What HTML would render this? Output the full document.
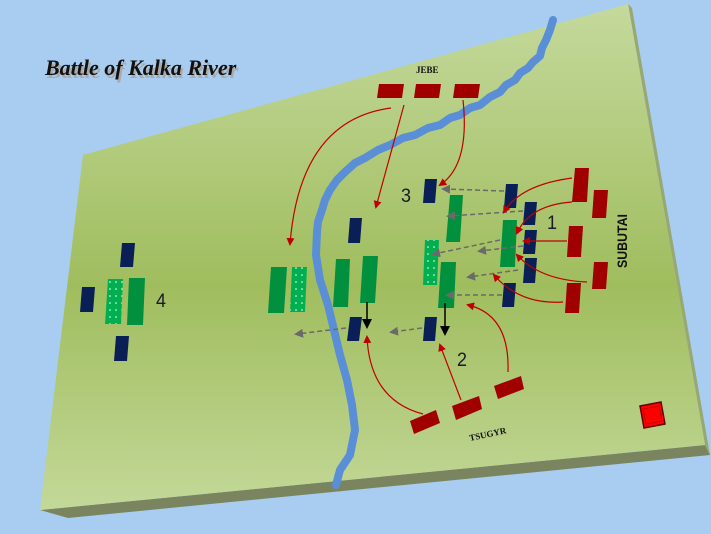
<!DOCTYPE html>
<html><head><meta charset="utf-8"><style>
html,body{margin:0;padding:0;background:#a8cdf0;width:711px;height:534px;overflow:hidden}
svg{display:block}
</style></head><body>
<svg width="711" height="534" viewBox="0 0 711 534" xmlns="http://www.w3.org/2000/svg">
<defs>
<linearGradient id="g" gradientUnits="userSpaceOnUse" x1="0" y1="5" x2="0" y2="515">
<stop offset="0" stop-color="#c4d99c"/><stop offset="0.55" stop-color="#a0bd5e"/><stop offset="1" stop-color="#c4d99a"/>
</linearGradient>
<marker id="ar" markerWidth="8" markerHeight="8" refX="6" refY="4" orient="auto" markerUnits="userSpaceOnUse"><path d="M0,0L8,4L0,8z" fill="#c00000"/></marker>
<marker id="ag" markerWidth="9" markerHeight="9" refX="6" refY="4.5" orient="auto" markerUnits="userSpaceOnUse"><path d="M0,0L9,4.5L0,9z" fill="#6a6a6a"/></marker>
<marker id="ab" markerWidth="10" markerHeight="10" refX="7" refY="5" orient="auto" markerUnits="userSpaceOnUse"><path d="M0,0L10,5L0,10z" fill="#000"/></marker>
<pattern id="dots" width="6" height="7" patternUnits="userSpaceOnUse"><rect width="6" height="7" fill="#00b050"/><circle cx="2" cy="2" r="0.8" fill="#fff"/></pattern>
</defs>
<polygon points="40,510 68,518 710,455 705,445" fill="#7a8560"/>
<polygon points="628,4 632,8 710,455 705,445" fill="#98a872"/>
<polygon points="83,155 628,4 705,445 40,510" fill="url(#g)"/>
<path d="M553,20 L550,30 L546,40 L542,48 L540,56 L533,62 L528,68 L520,73 L515,80 L506,85 L500,92 L490,97 L480,105 L470,108 L460,115 L450,118 L440,125 L428,128 L415,135 L403,138 L390,145 L378,150 L365,158 L355,163 L345,172 L337,180 L330,190 L325,200 L322,210 L318,222 L317,232 L316,255 L320,280 L328,305 L334,330 L340,355 L347,380 L352,405 L355,430 L350,455 L340,470 L336,485" fill="none" stroke="#5a8ed6" stroke-width="8" stroke-linejoin="round" stroke-linecap="round"/>
<text x="47" y="78" font-family="Liberation Serif,serif" font-style="italic" font-weight="bold" font-size="22" fill="#aaa">Battle of Kalka River</text>
<text x="45" y="75" font-family="Liberation Serif,serif" font-style="italic" font-weight="bold" font-size="22" fill="#111">Battle of Kalka River</text>
<text x="416" y="73" font-family="Liberation Serif,serif" font-weight="bold" font-size="9" fill="#111">JEBE</text>
<text transform="translate(627,268) rotate(-90)" font-family="Liberation Sans,sans-serif" font-weight="bold" font-size="14" fill="#111" textLength="54" lengthAdjust="spacingAndGlyphs">SUBUTAI</text>
<text transform="translate(470,441) rotate(-12)" font-family="Liberation Serif,serif" font-weight="bold" font-size="9" fill="#111">TSUGYR</text>
<g font-family="Liberation Sans,sans-serif" font-size="19" fill="#1a1a2a">
<text x="401" y="202" textLength="10" lengthAdjust="spacingAndGlyphs">3</text><text x="547" y="229" textLength="10" lengthAdjust="spacingAndGlyphs">1</text><text x="457" y="366" textLength="10" lengthAdjust="spacingAndGlyphs">2</text><text x="156" y="307" textLength="10" lengthAdjust="spacingAndGlyphs">4</text>
</g>
<g fill="#a00000">
<polygon points="379,84 404,84 402,98 377,98"/><polygon points="416,84 441,84 439,98 414,98"/><polygon points="455,84 480,84 478,98 453,98"/>
<polygon points="575,168 589,168 587,202 572,202"/><polygon points="594,190 608,190 606,218 592,218"/>
<polygon points="569,226 583,226 581,257 567,257"/><polygon points="594,262 608,262 606,289 592,289"/>
<polygon points="567,283 581,283 579,313 565,313"/>
<polygon points="410,421 436,410 440,423 414,434"/><polygon points="452,406 479,396 482,409 456,420"/><polygon points="494,386 521,376 524,389 498,399"/>
</g>
<g fill="#0a1f55">
<polygon points="425,179 437,179 435,203 423,203"/><polygon points="506,184 518,184 516,208 504,208"/>
<polygon points="525,202 537,202 535,225 523,225"/><polygon points="525,230 537,230 535,254 523,254"/>
<polygon points="525,258 537,258 535,283 523,283"/><polygon points="504,283 516,283 514,307 502,307"/>
<polygon points="425,317 437,317 435,341 423,341"/><polygon points="350,317 362,317 359,341 347,341"/>
<polygon points="350,218 362,218 360,243 348,243"/>
<polygon points="122,243 135,243 133,267 120,267"/><polygon points="82,287 95,287 93,312 80,312"/>
<polygon points="116,336 129,336 127,361 114,361"/>
</g>
<g fill="#00903e">
<polygon points="450,195 463,195 460,242 446,242"/><polygon points="441,262 456,262 454,308 438,308"/>
<polygon points="503,220 517,220 515,267 500,267"/>
<polygon points="271,267 287,267 284,313 268,313"/><polygon points="336,259 350,259 348,307 333,307"/>
<polygon points="363,256 378,256 375,303 360,303"/><polygon points="129,278 145,278 143,325 127,325"/>
</g>
<g fill="url(#dots)">
<polygon points="425,240 439,240 437,285 423,285"/><polygon points="292,267 307,267 305,312 290,312"/>
<polygon points="108,279 123,279 121,324 105,324"/>
</g>
<g stroke="#6a6a6a" stroke-width="1.5" stroke-dasharray="5,3" fill="none" marker-end="url(#ag)">
<path d="M504,191 L444,189"/><path d="M523,211 L449,216"/><path d="M500,240 L434,254"/>
<path d="M523,246 L480,251"/><path d="M518,270 L469,277"/><path d="M502,295 L448,295"/>
<path d="M422,328 L392,332"/><path d="M346,328 L297,334"/>
</g>
<g stroke="#000" stroke-width="1.5" marker-end="url(#ab)">
<path d="M445,303 L445,333"/><path d="M367,302 L367,326"/>
</g>
<g stroke="#c00000" stroke-width="1.2" fill="none" marker-end="url(#ar)">
<path d="M391,108 Q300,120 290,244"/><path d="M404,105 L376,207"/><path d="M463,100 Q470,165 440,185"/>
<path d="M572,178 Q520,185 504,212"/><path d="M572,202 Q530,205 517,233"/><path d="M567,241 L524,241"/>
<path d="M587,282 Q540,280 517,255"/><path d="M563,302 Q520,305 494,275"/>
<path d="M508,372 Q510,315 468,305"/><path d="M461,400 L440,345"/><path d="M423,414 Q370,400 367,337"/>
</g>
<polygon points="640,406 661,402 665,424 644,428" fill="#ff0000" stroke="#600" stroke-width="1.5"/>
<polygon points="643,409 659,406 662,421 646,424" fill="none" stroke="#b00" stroke-width="0.8"/>
</svg>
</body></html>
